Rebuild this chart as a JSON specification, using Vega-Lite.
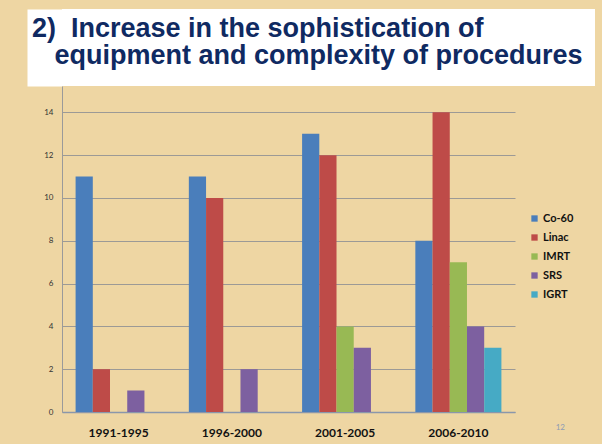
{
  "$schema": "https://vega.github.io/schema/vega-lite/v6.json",
  "background": "#eed6a3",
  "padding": {"left": 27, "top": 9, "right": 12, "bottom": 12},
  "columns": 1,
  "align": "none",
  "spacing": 0,
  "config": {"view": {"stroke": null}, "font": "Lato"},
  "concat": [
    {
      "width": 533,
      "height": 77,
      "view": {"fill": "#ffffff", "stroke": null},
      "title": {
        "text": ["2)\u00a0 Increase in the sophistication of", "\u200b\u00a0\u00a0\u00a0equipment and complexity of procedures"],
        "orient": "bottom",
        "anchor": "start",
        "frame": "group",
        "baseline": "alphabetic",
        "font": "Liberation Sans",
        "fontSize": 27,
        "fontWeight": "bold",
        "color": "#0f2a62",
        "lineHeight": 27.4,
        "dx": -30,
        "offset": -49
      },
      "data": {"values": [{"k": 0}]},
      "mark": {"type": "point", "opacity": 0},
      "encoding": {
        "y": {
          "field": "k",
          "type": "quantitative",
          "axis": {
            "title": null,
            "labels": false,
            "ticks": false,
            "grid": false,
            "domain": true,
            "domainColor": "#ffffff",
            "domainWidth": 35,
            "offset": 17.5
          }
        }
      }
    },
    {
      "width": 453,
      "height": 326,
      "title": {
        "text": "12",
        "orient": "bottom",
        "anchor": "end",
        "fontSize": 8,
        "fontWeight": "normal",
        "font": "Lato",
        "color": "#8d9bb5",
        "dx": 50,
        "offset": -14
      },
      "data": {
        "values": [
          {"period": "1991-1995", "type": "Co-60", "count": 11},
          {"period": "1991-1995", "type": "Linac", "count": 2},
          {"period": "1991-1995", "type": "IMRT", "count": 0},
          {"period": "1991-1995", "type": "SRS", "count": 1},
          {"period": "1991-1995", "type": "IGRT", "count": 0},
          {"period": "1996-2000", "type": "Co-60", "count": 11},
          {"period": "1996-2000", "type": "Linac", "count": 10},
          {"period": "1996-2000", "type": "IMRT", "count": 0},
          {"period": "1996-2000", "type": "SRS", "count": 2},
          {"period": "1996-2000", "type": "IGRT", "count": 0},
          {"period": "2001-2005", "type": "Co-60", "count": 13},
          {"period": "2001-2005", "type": "Linac", "count": 12},
          {"period": "2001-2005", "type": "IMRT", "count": 4},
          {"period": "2001-2005", "type": "SRS", "count": 3},
          {"period": "2001-2005", "type": "IGRT", "count": 0},
          {"period": "2006-2010", "type": "Co-60", "count": 8},
          {"period": "2006-2010", "type": "Linac", "count": 14},
          {"period": "2006-2010", "type": "IMRT", "count": 7},
          {"period": "2006-2010", "type": "SRS", "count": 4},
          {"period": "2006-2010", "type": "IGRT", "count": 3}
        ]
      },
      "mark": {"type": "bar"},
      "encoding": {
        "x": {
          "field": "period",
          "type": "nominal",
          "sort": null,
          "scale": {"paddingInner": 0.24, "paddingOuter": 0.12},
          "axis": {
            "title": null,
            "labelAngle": 0,
            "labelFont": "Lato",
            "labelFontWeight": "bold",
            "labelFontSize": 12,
            "labelColor": "#111111",
            "ticks": false,
            "domainColor": "#8a97ab",
            "domainWidth": 1.5,
            "labelPadding": 15
          }
        },
        "xOffset": {
          "field": "type",
          "type": "nominal",
          "sort": ["Co-60", "Linac", "IMRT", "SRS", "IGRT"],
          "scale": {"domain": ["Co-60", "Linac", "IMRT", "SRS", "IGRT"], "paddingInner": 0, "paddingOuter": 0}
        },
        "y": {
          "field": "count",
          "type": "quantitative",
          "scale": {"domain": [0, 15.23], "nice": false, "zero": true},
          "axis": {
            "title": null,
            "values": [0, 2, 4, 6, 8, 10, 12, 14],
            "grid": true,
            "gridColor": "#9c9a96",
            "gridWidth": 1,
            "domainColor": "#9a9a9a",
            "ticks": false,
            "labelFont": "Lato",
            "labelFontSize": 8,
            "labelColor": "#333333",
            "labelPadding": 9,
            "minExtent": 35
          }
        },
        "color": {
          "field": "type",
          "type": "nominal",
          "sort": ["Co-60", "Linac", "IMRT", "SRS", "IGRT"],
          "scale": {
            "domain": ["Co-60", "Linac", "IMRT", "SRS", "IGRT"],
            "range": ["#4a7ebb", "#be4b48", "#98b954", "#7d60a0", "#46aac5"]
          },
          "legend": {
            "title": null,
            "orient": "none",
            "legendX": 467,
            "legendY": 204,
            "symbolType": "square",
            "symbolSize": 40,
            "symbolStrokeWidth": 0,
            "symbolOpacity": 1,
            "labelFont": "Lato",
            "labelFontWeight": "bold",
            "labelFontSize": 11,
            "labelColor": "#111111",
            "labelOffset": 3,
            "rowPadding": 7
          }
        }
      }
    }
  ]
}
